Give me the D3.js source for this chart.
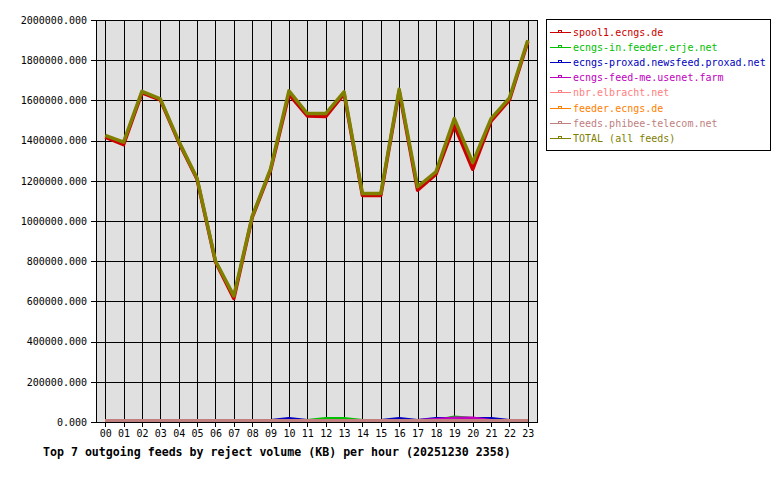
<!DOCTYPE html>
<html>
<head>
	<meta charset="utf-8">
	<script src="https://cdnjs.cloudflare.com/ajax/libs/d3/7.8.5/d3.min.js" charset="utf-8"></script>
	<style>
		body {
		  margin: 0;
		  background: #ffffff;
		  font-family: 'DejaVu Sans Mono', 'Liberation Mono', monospace;
		}
		.tick text {
		  font-size: 10px;
		  fill: #000000;
		}
		.title {
		  font-size: 11.6px;
		  font-weight: bold;
		  fill: #000000;
		}
		.legendText {
		  font-size: 10px;
		}
	</style>
</head>
<body>

<div id="chart"></div>

<script>

///////////////////////////////////////////////////
///////////////////// Data ////////////////////////
///////////////////////////////////////////////////

var hours = ["00","01","02","03","04","05","06","07","08","09","10","11",
             "12","13","14","15","16","17","18","19","20","21","22","23"];

var feedNames = ["spool1.ecngs.de", "ecngs-in.feeder.erje.net", "ecngs-proxad.newsfeed.proxad.net",
                 "ecngs-feed-me.usenet.farm", "nbr.elbracht.net", "feeder.ecngs.de",
                 "feeds.phibee-telecom.net", "TOTAL (all feeds)"];

var feedColors = ["#cc0000", "#00c000", "#0000c0", "#c000c0", "#ff8080", "#ff8000", "#c08080", "#808000"];

var spool1   = [1410000, 1372000, 1630000, 1595000, 1385000, 1200000, 790000, 607000, 1010000, 1245000, 1622000, 1515000,
                1512000, 1625000, 1120000, 1120000, 1638000, 1146000, 1225000, 1469000, 1250000, 1489000, 1595000, 1885000];
var erje     = [0, 0, 0, 0, 0, 0, 0, 0, 0, 0, 0, 0,
                10000, 10000, 0, 0, 0, 0, 0, 18000, 10000, 0, 0, 0];
var proxad   = [0, 0, 0, 0, 0, 0, 0, 0, 0, 0, 10000, 0,
                0, 0, 0, 0, 10000, 0, 10000, 10000, 10000, 10000, 0, 0];
var usenet   = [0, 0, 0, 0, 0, 0, 0, 0, 0, 0, 0, 0,
                0, 0, 0, 0, 0, 0, 5000, 12000, 12000, 0, 0, 0];
var elbracht = [0, 0, 0, 0, 0, 0, 0, 0, 0, 0, 0, 0,
                0, 0, 0, 0, 0, 0, 0, 0, 0, 0, 0, 0];
var feeder   = [0, 0, 0, 0, 0, 0, 0, 0, 0, 0, 0, 0,
                0, 0, 0, 0, 0, 0, 0, 0, 0, 0, 0, 0];
var phibee   = [0, 0, 0, 0, 0, 0, 0, 0, 0, 0, 0, 0,
                0, 0, 0, 0, 0, 0, 0, 0, 0, 0, 0, 0];
var total    = [1419000, 1385000, 1638000, 1600000, 1390000, 1205000, 795000, 620000, 1015000, 1252000, 1640000, 1527000,
                1527000, 1635000, 1129000, 1129000, 1648000, 1163000, 1237000, 1502000, 1283000, 1502000, 1605000, 1892000];

var yTicks = [0, 200000, 400000, 600000, 800000, 1000000, 1200000, 1400000, 1600000, 1800000, 2000000];

var titleText = "Top 7 outgoing feeds by reject volume (KB) per hour (20251230 2358)";

///////////////////////////////////////////////////
//////////////// Set the Scales ///////////////////
///////////////////////////////////////////////////

var margin = {top: 20, left: 96},
    width = 441,
    height = 402;

var x = d3.scaleLinear().domain([-0.5, hours.length - 0.5]).range([0, width]);
var y = d3.scaleLinear().domain([0, 2000000]).range([height, 0]);

var svg = d3.select("#chart")
    .append("svg")
        .attr("width", 780)
        .attr("height", 480);

var g = svg.append("g")
    .attr("transform", "translate(" + margin.left + "," + margin.top + ")");

///////////////////////////////////////////////////
////////////// Plot area and grid /////////////////
///////////////////////////////////////////////////

g.append("rect")
	.attr("width", width)
	.attr("height", height)
	.style("fill", "#e0e0e0");

//Vertical grid at every hour
g.selectAll(".vgrid")
	.data(hours)
   .enter().append("line")
	.attr("class", "vgrid")
	.attr("x1", function(d, i) { return Math.round(x(i)) + 0.5; })
	.attr("x2", function(d, i) { return Math.round(x(i)) + 0.5; })
	.attr("y1", 0)
	.attr("y2", height)
	.style("stroke", "#000")
	.style("shape-rendering", "crispEdges");

//Horizontal grid
g.selectAll(".hgrid")
	.data(yTicks)
   .enter().append("line")
	.attr("class", "hgrid")
	.attr("x1", 0)
	.attr("x2", width)
	.attr("y1", function(d) { return Math.round(y(d)) + 0.5; })
	.attr("y2", function(d) { return Math.round(y(d)) + 0.5; })
	.style("stroke", "#000")
	.style("shape-rendering", "crispEdges");

///////////////////////////////////////////////////
/////////////////// The lines /////////////////////
///////////////////////////////////////////////////

var series = [spool1, erje, proxad, usenet, elbracht, feeder, phibee, total];

var line = d3.line()
	.x(function(d, i) { return x(i); })
	.y(function(d) { return y(d) - 1.5; });

g.selectAll(".feedLine")
	.data(series)
   .enter().append("path")
	.attr("class", "feedLine")
	.attr("d", line)
	.style("fill", "none")
	.style("stroke", function(d, i) { return feedColors[i]; })
	.style("stroke-width", function(d, i) { return (i === 0 || i === 7) ? 3.5 : 3; })
	.style("stroke-linejoin", "round");

//Frame
g.append("rect")
	.attr("x", 0.5)
	.attr("y", 0.5)
	.attr("width", width)
	.attr("height", height)
	.style("fill", "none")
	.style("stroke", "#000")
	.style("shape-rendering", "crispEdges");

///////////////////////////////////////////////////
//////////////////// Axes /////////////////////////
///////////////////////////////////////////////////

var yAxis = g.append("g")
	.call(d3.axisLeft(y)
		.tickValues(yTicks)
		.tickSize(5)
		.tickPadding(4)
		.tickFormat(d3.format(".3f")));

var xAxis = g.append("g")
	.attr("transform", "translate(0," + height + ")")
	.call(d3.axisBottom(x)
		.tickValues(d3.range(hours.length))
		.tickSize(5)
		.tickPadding(3)
		.tickFormat(function(d) { return hours[d]; }));

[yAxis, xAxis].forEach(function(a) {
	a.select(".domain").remove();
	a.selectAll(".tick line").style("stroke", "#000").style("shape-rendering", "crispEdges");
	a.selectAll(".tick text").style("font-family", "'DejaVu Sans Mono', monospace").style("font-size", "10px");
});

svg.append("text")
	.attr("class", "title")
	.attr("x", 43)
	.attr("y", 456)
	.text(titleText);

///////////////////////////////////////////////////
/////////////////// Legend ////////////////////////
///////////////////////////////////////////////////

svg.append("rect")
	.attr("x", 546.5)
	.attr("y", 19.5)
	.attr("width", 224)
	.attr("height", 131)
	.style("fill", "#fff")
	.style("stroke", "#000")
	.style("shape-rendering", "crispEdges");

var legend = svg.selectAll(".legendItem")
	.data(feedNames)
   .enter().append("g")
	.attr("class", "legendItem")
	.attr("transform", function(d, i) { return "translate(550," + (32 + i * 15.1) + ")"; });

legend.append("line")
	.attr("x1", 0)
	.attr("x2", 21)
	.attr("y1", 0.5)
	.attr("y2", 0.5)
	.style("stroke", function(d, i) { return feedColors[i]; })
	.style("shape-rendering", "crispEdges");

legend.append("rect")
	.attr("x", 8.5)
	.attr("y", -1.5)
	.attr("width", 3)
	.attr("height", 2)
	.style("fill", "none")
	.style("stroke", function(d, i) { return feedColors[i]; })
	.style("shape-rendering", "crispEdges");

legend.append("text")
	.attr("class", "legendText")
	.attr("x", 23)
	.attr("y", 4)
	.style("fill", function(d, i) { return feedColors[i]; })
	.text(function(d) { return d; });

</script>

</body>
</html>
